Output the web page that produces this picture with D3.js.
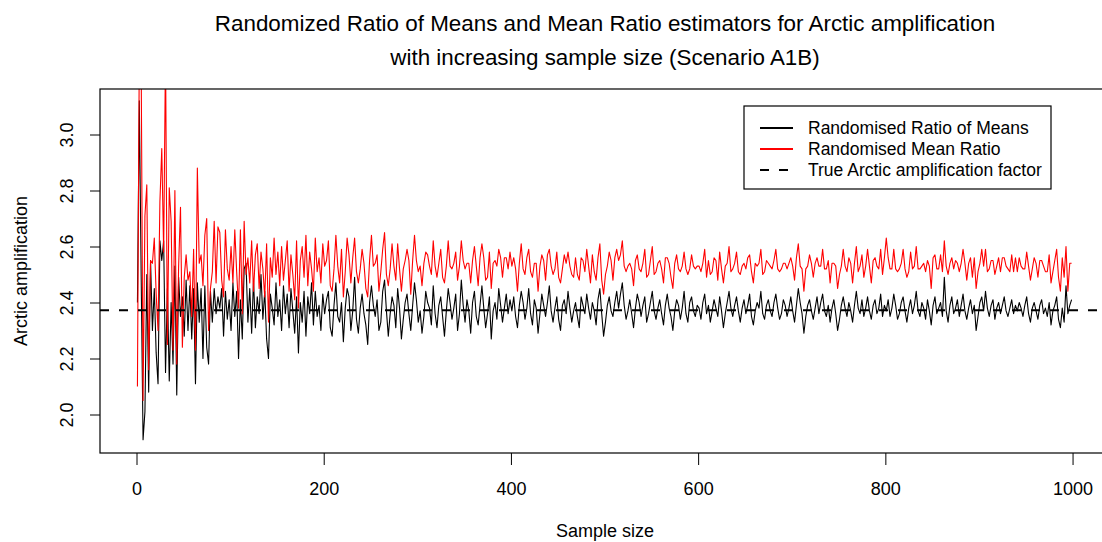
<!DOCTYPE html>
<html>
<head>
<meta charset="utf-8">
<script src="https://cdnjs.cloudflare.com/ajax/libs/d3/7.8.5/d3.min.js"></script>
<style>
  body { margin: 0; background: #fff; }
  svg { display: block; font-family: "Liberation Sans", Arial, Helvetica, sans-serif; }
</style>
</head>
<body>
<svg width="1102" height="542"></svg>
<script>
const svg = d3.select('svg');

const width = +svg.attr('width');
const height = +svg.attr('height');

// sample sizes drawn (every second one, 1..999)
const sampleSize = d3.range(1, 1001, 2);

// Randomised Ratio of Means (black)
const ratioOfMeans = [
  // n 1..99
  2.40,3.12,2.49,1.91,2.01,2.50,2.08,2.55,2.30,2.45,
  2.22,2.11,2.62,2.55,2.62,2.15,2.45,2.12,2.40,2.18,
  2.53,2.07,2.49,2.35,2.42,2.28,2.48,2.30,2.46,2.27,
  2.45,2.11,2.47,2.33,2.45,2.20,2.46,2.24,2.18,2.44,
  2.33,2.45,2.36,2.42,2.38,2.45,2.28,2.44,2.34,2.41,
  // n 101..199
  2.30,2.47,2.35,2.44,2.20,2.41,2.27,2.52,2.54,2.33,
  2.45,2.29,2.48,2.31,2.42,2.36,2.50,2.34,2.44,2.27,
  2.20,2.43,2.38,2.32,2.47,2.35,2.41,2.30,2.46,2.36,
  2.43,2.31,2.45,2.37,2.29,2.42,2.22,2.40,2.33,2.44,
  2.28,2.42,2.36,2.47,2.32,2.44,2.35,2.39,2.30,2.43,
  // n 201..399
  2.36,2.41,2.44,2.31,2.28,2.39,2.47,2.35,2.33,2.40,2.26,2.38,2.45,2.42,2.30,2.37,2.49,2.34,2.29,2.38,
  2.43,2.36,2.32,2.25,2.40,2.46,2.39,2.35,2.41,2.30,2.33,2.44,2.48,2.37,2.28,2.36,2.42,2.39,2.31,2.45,
  2.38,2.27,2.34,2.40,2.43,2.36,2.30,2.39,2.47,2.41,2.33,2.37,2.29,2.35,2.44,2.40,2.38,2.32,2.46,2.36,
  2.31,2.39,2.42,2.35,2.28,2.37,2.45,2.40,2.34,2.38,2.43,2.30,2.36,2.48,2.39,2.33,2.41,2.37,2.29,2.40,
  2.44,2.35,2.32,2.39,2.46,2.38,2.31,2.36,2.42,2.27,2.37,2.40,2.34,2.45,2.39,2.33,2.38,2.43,2.36,2.41,
  // n 401..599
  2.37,2.42,2.35,2.31,2.39,2.44,2.40,2.34,2.38,2.45,2.36,2.32,2.41,2.38,2.29,2.36,2.43,2.39,2.35,2.40,
  2.46,2.37,2.33,2.38,2.42,2.34,2.30,2.39,2.41,2.36,2.44,2.38,2.33,2.37,2.40,2.35,2.31,2.42,2.39,2.36,
  2.43,2.38,2.34,2.40,2.37,2.32,2.41,2.45,2.36,2.28,2.33,2.39,2.42,2.37,2.35,2.40,2.44,2.38,2.43,2.47,
  2.39,2.34,2.37,2.41,2.36,2.31,2.38,2.43,2.40,2.35,2.39,2.42,2.33,2.36,2.40,2.44,2.37,2.34,2.38,2.41,
  2.36,2.32,2.39,2.43,2.38,2.35,2.30,2.37,2.41,2.39,2.34,2.38,2.44,2.36,2.33,2.40,2.42,2.37,2.35,2.39,
  // n 601..799
  2.38,2.34,2.40,2.43,2.36,2.39,2.33,2.37,2.41,2.38,2.35,2.42,2.37,2.31,2.36,2.40,2.44,2.38,2.35,2.39,
  2.42,2.37,2.33,2.38,2.41,2.36,2.39,2.43,2.35,2.32,2.37,2.40,2.38,2.44,2.36,2.34,2.39,2.41,2.37,2.35,
  2.40,2.43,2.38,2.34,2.36,2.41,2.39,2.35,2.38,2.42,2.37,2.33,2.39,2.45,2.40,2.36,2.29,2.35,2.39,2.41,
  2.37,2.34,2.38,2.42,2.36,2.40,2.43,2.37,2.35,2.39,2.33,2.38,2.41,2.36,2.30,2.34,2.39,2.42,2.38,2.35,
  2.40,2.37,2.33,2.39,2.44,2.38,2.36,2.41,2.35,2.38,2.42,2.37,2.34,2.39,2.41,2.36,2.38,2.43,2.35,2.39,
  // n 801..999
  2.37,2.41,2.35,2.38,2.43,2.39,2.34,2.36,2.40,2.42,2.37,2.33,2.38,2.41,2.36,2.39,2.44,2.37,2.35,2.40,
  2.38,2.34,2.41,2.37,2.32,2.39,2.42,2.36,2.38,2.40,2.35,2.49,2.37,2.33,2.39,2.42,2.36,2.38,2.41,2.35,
  2.39,2.43,2.37,2.34,2.38,2.41,2.36,2.39,2.30,2.35,2.40,2.42,2.37,2.44,2.38,2.35,2.39,2.41,2.34,2.38,
  2.40,2.36,2.39,2.42,2.37,2.35,2.38,2.41,2.36,2.39,2.37,2.40,2.38,2.35,2.39,2.42,2.36,2.33,2.38,2.40,
  2.37,2.34,2.39,2.41,2.36,2.38,2.35,2.40,2.32,2.37,2.39,2.42,2.34,2.31,2.38,2.33,2.46,2.36,2.39,2.41
];

// Randomised Mean Ratio (red)
const meanRatio = [
  // n 1..99
  2.10,3.30,3.25,2.05,2.71,2.82,2.16,2.55,2.54,2.63,
  2.43,2.30,2.76,2.95,2.58,3.30,2.25,2.81,2.69,2.23,
  2.80,2.18,2.53,2.74,2.24,2.49,2.57,2.48,2.51,2.35,
  2.59,2.23,2.88,2.54,2.57,2.46,2.64,2.70,2.30,2.45,
  2.51,2.69,2.47,2.67,2.65,2.48,2.42,2.66,2.52,2.48,
  // n 101..199
  2.60,2.47,2.66,2.51,2.38,2.66,2.36,2.69,2.50,2.56,
  2.47,2.62,2.44,2.57,2.61,2.45,2.58,2.52,2.42,2.61,
  2.33,2.56,2.49,2.63,2.50,2.58,2.46,2.60,2.48,2.55,
  2.62,2.44,2.57,2.50,2.41,2.62,2.38,2.55,2.60,2.49,
  2.64,2.46,2.58,2.52,2.44,2.63,2.51,2.56,2.47,2.61,
  // n 201..399
  2.53,2.55,2.62,2.46,2.44,2.52,2.64,2.53,2.47,2.59,2.42,2.51,2.63,2.57,2.47,2.56,2.63,2.51,2.47,2.52,
  2.59,2.54,2.45,2.42,2.55,2.64,2.53,2.54,2.57,2.44,2.51,2.59,2.65,2.50,2.46,2.52,2.61,2.53,2.48,2.61,
  2.52,2.44,2.52,2.55,2.59,2.55,2.43,2.55,2.64,2.55,2.51,2.53,2.46,2.54,2.58,2.57,2.53,2.50,2.62,2.53,
  2.49,2.54,2.59,2.49,2.47,2.53,2.62,2.53,2.52,2.54,2.58,2.48,2.53,2.62,2.55,2.52,2.54,2.54,2.47,2.55,
  2.60,2.53,2.46,2.56,2.61,2.56,2.48,2.49,2.58,2.45,2.54,2.55,2.53,2.59,2.56,2.49,2.56,2.56,2.52,2.58,
  // n 401..599
  2.53,2.56,2.52,2.44,2.54,2.61,2.52,2.50,2.56,2.59,2.51,2.49,2.54,2.54,2.44,2.53,2.57,2.55,2.48,2.57,
  2.59,2.53,2.50,2.52,2.58,2.49,2.47,2.52,2.57,2.54,2.58,2.53,2.50,2.49,2.56,2.50,2.48,2.56,2.55,2.51,
  2.59,2.53,2.47,2.57,2.51,2.48,2.56,2.61,2.48,2.43,2.50,2.53,2.58,2.55,2.48,2.56,2.59,2.55,2.57,2.62,
  2.53,2.51,2.53,2.54,2.52,2.46,2.55,2.57,2.52,2.51,2.54,2.59,2.49,2.50,2.55,2.60,2.50,2.51,2.54,2.55,
  2.52,2.47,2.56,2.56,2.54,2.49,2.45,2.54,2.57,2.52,2.51,2.53,2.58,2.52,2.50,2.52,2.57,2.53,2.52,2.53,
  // n 601..799
  2.53,2.51,2.54,2.59,2.49,2.55,2.50,2.51,2.56,2.55,2.48,2.58,2.52,2.47,2.53,2.54,2.60,2.51,2.52,2.54,
  2.58,2.51,2.50,2.53,2.54,2.52,2.56,2.57,2.51,2.47,2.54,2.53,2.54,2.59,2.50,2.51,2.55,2.54,2.53,2.52,
  2.55,2.59,2.52,2.51,2.52,2.54,2.54,2.52,2.54,2.56,2.53,2.48,2.56,2.61,2.53,2.52,2.44,2.52,2.53,2.57,
  2.54,2.49,2.54,2.56,2.53,2.53,2.59,2.52,2.52,2.55,2.47,2.54,2.54,2.53,2.45,2.50,2.53,2.59,2.53,2.51,
  2.56,2.54,2.47,2.54,2.60,2.51,2.53,2.57,2.49,2.53,2.59,2.53,2.47,2.55,2.56,2.53,2.52,2.59,2.50,2.56,
  // n 801..999
  2.63,2.56,2.52,2.52,2.59,2.52,2.51,2.52,2.54,2.59,2.52,2.49,2.51,2.58,2.52,2.53,2.60,2.52,2.52,2.53,
  2.54,2.51,2.55,2.53,2.45,2.56,2.57,2.52,2.52,2.57,2.51,2.62,2.53,2.50,2.54,2.56,2.52,2.55,2.54,2.51,
  2.54,2.59,2.54,2.48,2.54,2.56,2.49,2.56,2.45,2.51,2.54,2.59,2.53,2.59,2.51,2.52,2.55,2.55,2.50,2.53,
  2.56,2.51,2.56,2.56,2.53,2.52,2.51,2.57,2.51,2.56,2.51,2.56,2.53,2.52,2.52,2.58,2.53,2.48,2.52,2.56,
  2.54,2.49,2.55,2.55,2.53,2.51,2.51,2.57,2.47,2.51,2.55,2.59,2.49,2.44,2.56,2.49,2.60,2.44,2.54,2.54
];

const trueFactor = 2.372;

const xTicks = [0, 200, 400, 600, 800, 1000];
const yTicks = [2.0, 2.2, 2.4, 2.6, 2.8, 3.0];

const titleLines = [
  'Randomized Ratio of Means and Mean Ratio estimators for Arctic amplification',
  'with increasing sample size (Scenario A1B)'
];

const legendItems = [
  { label: 'Randomised Ratio of Means', color: '#000', dash: null },
  { label: 'Randomised Mean Ratio', color: '#ff0000', dash: null },
  { label: 'True Arctic amplification factor', color: '#000', dash: '9,10' }
];

// plot box (right edge runs past the page, like the original)
const box = { left: 100, top: 89, right: 1110, bottom: 453 };

// R pads the data range by 4% each side
const x = d3.scaleLinear().domain([-39, 1040]).range([box.left, box.right]);
const y = d3.scaleLinear().domain([1.8625, 3.1625]).range([box.bottom, box.top]);

svg.append('defs').append('clipPath').attr('id', 'plotclip')
  .append('rect')
    .attr('x', box.left).attr('y', box.top)
    .attr('width', box.right - box.left).attr('height', box.bottom - box.top);

const plot = svg.append('g').attr('clip-path', 'url(#plotclip)');

const line = d3.line()
  .defined(d => d.v != null)
  .x(d => x(d.n))
  .y(d => y(d.v));

const toPoints = values => sampleSize.map((n, i) => ({ n, v: values[i] }));

plot.append('path')
  .datum(toPoints(ratioOfMeans))
  .attr('fill', 'none')
  .attr('stroke', '#000')
  .attr('stroke-width', 1.1)
  .attr('stroke-linejoin', 'round')
  .attr('d', line);

plot.append('path')
  .datum(toPoints(meanRatio))
  .attr('fill', 'none')
  .attr('stroke', '#ff0000')
  .attr('stroke-width', 1.1)
  .attr('stroke-linejoin', 'round')
  .attr('d', line);

// true value, abline style across the whole box
plot.append('line')
  .attr('x1', box.left).attr('x2', box.right)
  .attr('y1', y(trueFactor)).attr('y2', y(trueFactor))
  .attr('stroke', '#000')
  .attr('stroke-width', 2)
  .attr('stroke-dasharray', '9,10');

// box
svg.append('rect')
  .attr('x', box.left).attr('y', box.top)
  .attr('width', box.right - box.left).attr('height', box.bottom - box.top)
  .attr('fill', 'none')
  .attr('stroke', '#000')
  .attr('stroke-width', 1.2);

// x axis
const xAxis = svg.append('g')
  .attr('transform', `translate(0,${box.bottom})`)
  .call(d3.axisBottom(x).tickValues(xTicks).tickSize(12).tickSizeOuter(0).tickFormat(d3.format('d')));
xAxis.select('.domain').remove();
xAxis.selectAll('.tick line').attr('stroke', '#000');
xAxis.selectAll('.tick text')
  .attr('y', 42).attr('dy', null)
  .attr('fill', '#000')
  .style('font-size', '18px');
xAxis.attr('font-family', null).attr('font-size', null);

// y axis, labels turned like R's las = 0
const yAxis = svg.append('g')
  .attr('transform', `translate(${box.left},0)`)
  .call(d3.axisLeft(y).tickValues(yTicks).tickSize(10).tickSizeOuter(0).tickFormat(d3.format('.1f')));
yAxis.select('.domain').remove();
yAxis.selectAll('.tick line').attr('stroke', '#000');
yAxis.selectAll('.tick text')
  .attr('x', 0).attr('y', -27).attr('dy', null)
  .attr('text-anchor', 'middle')
  .attr('transform', 'rotate(-90)')
  .attr('fill', '#000')
  .style('font-size', '18px');
yAxis.attr('font-family', null).attr('font-size', null);

// titles
svg.selectAll('text.title')
  .data(titleLines)
  .enter()
    .append('text')
    .attr('class', 'title')
    .attr('x', (box.left + box.right) / 2)
    .attr('y', (d, i) => 30.5 + i * 34.5)
    .attr('text-anchor', 'middle')
    .style('font-size', '22.4px')
    .text(d => d);

svg.append('text')
  .attr('x', (box.left + box.right) / 2)
  .attr('y', 537)
  .attr('text-anchor', 'middle')
  .style('font-size', '18px')
  .text('Sample size');

svg.append('text')
  .attr('transform', `translate(27,${(box.top + box.bottom) / 2}) rotate(-90)`)
  .attr('text-anchor', 'middle')
  .style('font-size', '18px')
  .text('Arctic amplification');

// legend
const legend = svg.append('g').attr('transform', 'translate(744,106)');
legend.append('rect')
  .attr('width', 307).attr('height', 83)
  .attr('fill', '#fff')
  .attr('stroke', '#000')
  .attr('stroke-width', 1.2);

const rows = legend.selectAll('g.row')
  .data(legendItems)
  .enter()
    .append('g')
    .attr('class', 'row')
    .attr('transform', (d, i) => `translate(0,${22 + i * 21})`);

rows.append('line')
  .attr('x1', 16).attr('x2', 49)
  .attr('stroke', d => d.color)
  .attr('stroke-width', 2)
  .attr('stroke-dasharray', d => d.dash);

rows.append('text')
  .attr('x', 64).attr('y', 6)
  .style('font-size', '17.5px')
  .text(d => d.label);
</script>
</body>
</html>
